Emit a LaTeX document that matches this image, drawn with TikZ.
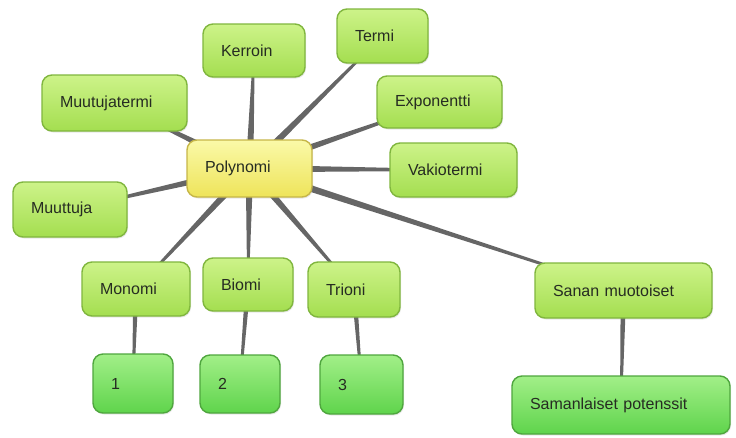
\documentclass[tikz,border=0pt]{standalone}
\usepackage{fontspec}
\setmainfont{Liberation Sans}
\usetikzlibrary{positioning, calc, backgrounds, shadows}
\definecolor{cLime}{HTML}{A4DE50}
\definecolor{cLimeTop}{HTML}{CDF389}
\definecolor{cLimeEdge}{HTML}{80B63E}
\definecolor{cSun}{HTML}{EEE45A}
\definecolor{cSunTop}{HTML}{FAF9A8}
\definecolor{cSunEdge}{HTML}{C6B648}
\definecolor{cLeaf}{HTML}{5FD44C}
\definecolor{cLeafTop}{HTML}{A2EF88}
\definecolor{cLeafEdge}{HTML}{4FA63E}
\definecolor{cSpoke}{HTML}{666666}
\definecolor{cText}{HTML}{262C22}
\tikzset{
  mapbox/.style={
    rounded corners=10pt, line width=1.4pt,
    inner xsep=18pt, inner ysep=0pt, align=left,
    font=\fontsize{16}{19}\selectfont, text=cText,
    drop shadow={shadow xshift=1pt, shadow yshift=-1.5pt, opacity=0.18}
  },
  topicbox/.style={
    mapbox, draw=cLimeEdge, top color=cLimeTop, bottom color=cLime
  },
  rootbox/.style={
    mapbox, draw=cSunEdge, top color=cSunTop, bottom color=cSun
  },
  leafbox/.style={
    mapbox, draw=cLeafEdge, top color=cLeafTop, bottom color=cLeaf
  },
}
% tapered connector: from, to, half width at start, half width at end
\newcommand{\spoke}[4]{%
  \fill[cSpoke] ($(#1)!#3!90:(#2)$) -- ($(#2)!#4!-90:(#1)$)
    -- ($(#2)!#4!90:(#1)$) -- ($(#1)!#3!-90:(#2)$) -- cycle;}
\begin{document}
\begin{tikzpicture}[x=1pt, y=-1pt]
\useasboundingbox (0,0) rectangle (736,437);

% centre
\node[rootbox, text width=89pt, minimum height=57pt] (poly) at (249.5,168.5) {Polynomi};

% upper ring
\node[topicbox, text width=66pt, minimum height=53pt] (kerr) at (254,50.5) {Kerroin};
\node[topicbox, text width=55pt, minimum height=54pt] (termi) at (382.5,36) {Termi};
\node[topicbox, text width=109pt, minimum height=56pt] (mterm) at (114.5,103) {Muutujatermi};
\node[topicbox, text width=89pt, minimum height=52pt] (expo) at (439.5,102) {Exponentti};
\node[topicbox, text width=91pt, minimum height=54pt] (vakio) at (453.5,170) {Vakiotermi};
\node[topicbox, text width=78pt, minimum height=55pt] (muut) at (70,209.5) {Muuttuja};

% lower ring
\node[topicbox, text width=72pt, minimum height=54pt] (mono) at (136,289) {Monomi};
\node[topicbox, text width=54pt, minimum height=53pt] (bio) at (248,284.5) {Biomi};
\node[topicbox, text width=56pt, minimum height=55pt] (tri) at (354,289.5) {Trioni};
\node[topicbox, text width=141pt, minimum height=55pt] (sanan) at (623.5,290.5) {Sanan muotoiset};

% leaves
\node[leafbox, text width=44pt, minimum height=59pt] (one) at (133,383.5) {1};
\node[leafbox, text width=44pt, minimum height=58pt] (two) at (240,384) {2};
\node[leafbox, text width=47pt, minimum height=59pt] (three) at (361.5,384.5) {3};
\node[leafbox, text width=182pt, minimum height=58pt] (saman) at (621,405) {Samanlaiset potenssit};

% connectors
\begin{scope}[on background layer]
\foreach \t in {kerr, termi, mterm, expo, vakio, muut, mono, bio, tri, sanan}
  {\spoke{poly}{\t}{3.8pt}{0.8pt}}
\spoke{mono}{one}{2.6pt}{1pt}
\spoke{bio}{two}{2.6pt}{1pt}
\spoke{tri}{three}{2.6pt}{1pt}
\spoke{sanan}{saman}{2.8pt}{1pt}
\end{scope}

\end{tikzpicture}
\end{document}
